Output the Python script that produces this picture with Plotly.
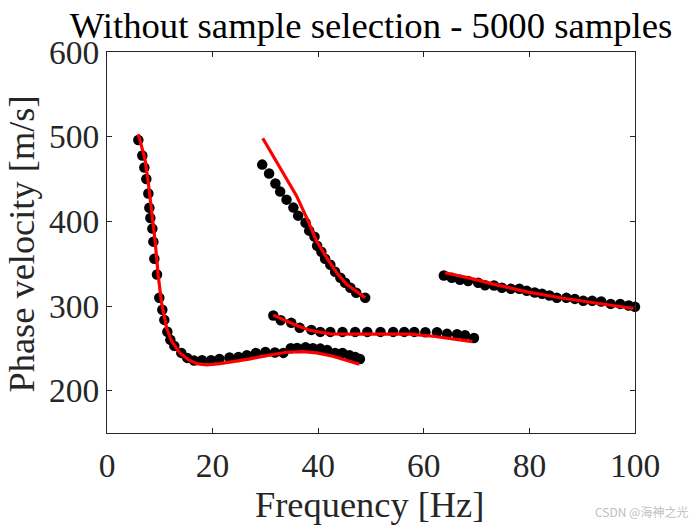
import plotly.graph_objects as go

# measured dots (black), one list per branch
dots_f1 = [5.93, 6.69, 7.07, 7.45, 7.83, 8.02, 8.21, 8.59, 8.78, 8.97, 9.47, 9.91, 10.48, 10.86, 11.43,
           12.0, 12.75, 14.08, 15.2, 16.5, 18.0, 19.7, 21.3, 23.2, 24.9, 26.5, 28.2, 30.0, 31.8, 33.4,
           34.8, 36.0, 37.6, 39.0, 40.4, 41.7, 43.2, 44.6, 45.9, 47.0, 47.9]
dots_v1 = [496, 477.7, 463.6, 450, 432.8, 416, 404, 391.4, 376, 355.9, 337.3, 309.7, 295.5, 283.6, 269.5,
           260, 252.9, 244.6, 238.7, 235.5, 235.9, 235.9, 237.5, 239.1, 239.8, 241.8, 244.6, 245.8, 245, 244.6,
           250.1, 250.5, 251.3, 250.1, 249.7, 248.1, 244.6, 244.6, 241.8, 239.8, 237.5]

dots_f2 = [29.4, 30.7, 31.9, 32.8, 34.0, 35.3, 36.2, 37.6, 38.3, 39.3, 39.8, 40.6, 41.3, 42.3, 43.2,
           44.2, 45.1, 46.1, 47.2, 48.9]
dots_v2 = [467, 456.4, 444.6, 435.1, 425.6, 416.2, 406.7, 398.4, 389, 381.9, 371.2, 364.1, 355.8, 348.7, 340.4,
           333.3, 327.4, 321.5, 315.6, 309.7]

dots_f3 = [31.5, 32.9, 34.9, 36.5, 38.7, 40.4, 42.3, 44.6, 47.0, 49.3, 51.8, 54.2, 56.3, 58.2, 60.3,
           62.5, 64.4, 66.3, 67.8, 69.5]
dots_v3 = [288.8, 283.2, 280.1, 274.2, 271.8, 269.4, 269.4, 269.4, 269.4, 269.4, 269.4, 269.4, 269.4, 269.4, 269,
           269, 267.1, 266.7, 265.5, 262.3]

dots_f4 = [63.8, 65.3, 66.85, 68.4, 70.3, 71.6, 73.3, 74.8, 76.5, 78.1, 79.5, 81.0, 82.4, 83.8, 85.2,
           87.0, 88.6, 90.2, 91.9, 93.6, 95.4, 97.2, 98.8, 100.0]
dots_v4 = [336.1, 333.3, 330.9, 329.4, 327.4, 324.6, 324.2, 321.5, 320.3, 320.3, 317.9, 315.9, 314.4, 312.4, 309.6,
           309.6, 308.4, 306.1, 306.1, 305.3, 302.5, 302.5, 300.6, 299]

# fitted curves (red)
line_f1 = [5.93, 6.56, 7.19, 7.82, 8.45, 9.08, 9.71, 10.34, 11.29, 12.24, 13.8, 15.4, 17.0, 18.9, 21.4,
           23.9, 27.1, 30.2, 34.0, 37.2, 39.7, 42.8, 45.4, 47.8]
line_v1 = [503, 489, 473.4, 445.7, 414.2, 378.7, 335.3, 303.7, 274.1, 258.4, 244.5, 236.7, 231.9, 230.4, 232,
           234.3, 237.5, 241.4, 245.4, 246.2, 244.6, 240.6, 235.9, 231.2]

line_f2 = [29.5, 31.5, 34.0, 35.9, 37.8, 39.7, 41.6, 43.5, 45.4, 47.3, 48.9]
line_v2 = [498.2, 477.3, 451.7, 430, 404.3, 376.7, 357, 339.3, 325.6, 316.7, 309.7]

line_f3 = [31.5, 33.4, 35.9, 38.4, 42.2, 46.6, 51.7, 57.4, 61.8, 65.6, 69.2]
line_v3 = [289.2, 284, 276.9, 271.4, 267.1, 266.7, 267.1, 266.7, 264.3, 261.1, 258]

line_f4 = [64.0, 68.7, 73.8, 79.5, 86.4, 92.7, 99.7]
line_v4 = [339.2, 332.9, 325, 316.7, 309.2, 303.7, 297]

x_ticks = [0, 20, 40, 60, 80, 100]
y_ticks = [200, 300, 400, 500, 600]

FONT = "Liberation Serif"
INK = "#262626"

fig = go.Figure()
dots = [(dots_f1, dots_v1), (dots_f2, dots_v2), (dots_f3, dots_v3), (dots_f4, dots_v4)]
for f, v in dots:
    fig.add_trace(go.Scatter(x=f, y=v, mode="markers", cliponaxis=False,
                             marker=dict(color="black", size=10.5), showlegend=False))
lines = [(line_f1, line_v1), (line_f2, line_v2), (line_f3, line_v3), (line_f4, line_v4)]
for f, v in lines:
    fig.add_trace(go.Scatter(x=f, y=v, mode="lines", line=dict(color="#ff0000", width=3.2),
                             showlegend=False))

axis_style = dict(showgrid=False, zeroline=False, showline=True, linecolor=INK, linewidth=1,
                  mirror="ticks", ticks="inside", ticklen=5, tickcolor=INK, tickwidth=1, automargin=False,
                  tickfont=dict(family=FONT, size=33.5, color=INK))

fig.update_xaxes(range=[0, 100], tickvals=x_ticks, ticklabelstandoff=3, **axis_style)
fig.update_yaxes(range=[150, 600], tickvals=y_ticks, ticklabelstandoff=0, **axis_style)

# page adds an 8px body margin, so the figure is 8px short of the window
fig.update_layout(
    width=692, height=517, plot_bgcolor="white", paper_bgcolor="white",
    margin=dict(l=99, r=65, t=44, b=92),
    title=dict(text="Without sample selection - 5000 samples", x=363 / 692, xanchor="center",
               y=0.967, yanchor="middle", font=dict(family=FONT, size=36.7, color="black")),
)

# axis titles as annotations so they sit exactly where the reference has them
fig.add_annotation(text="Frequency [Hz]", xref="paper", yref="paper", x=0.498, y=-0.189,
                   xanchor="center", yanchor="middle", showarrow=False,
                   font=dict(family=FONT, size=36.4, color=INK))
fig.add_annotation(text="Phase velocity [m/s]", xref="paper", yref="paper", x=-0.16, y=0.496,
                   xanchor="center", yanchor="middle", showarrow=False, textangle=-90,
                   font=dict(family=FONT, size=36.4, color=INK))

fig.add_annotation(text="CSDN @海神之光", xref="paper", yref="paper", x=1.104, y=-0.205,
                   xanchor="right", yanchor="middle", showarrow=False,
                   font=dict(family="Noto Sans CJK SC", size=12, color="#c0c0c0"))

fig.write_html("out.html")
